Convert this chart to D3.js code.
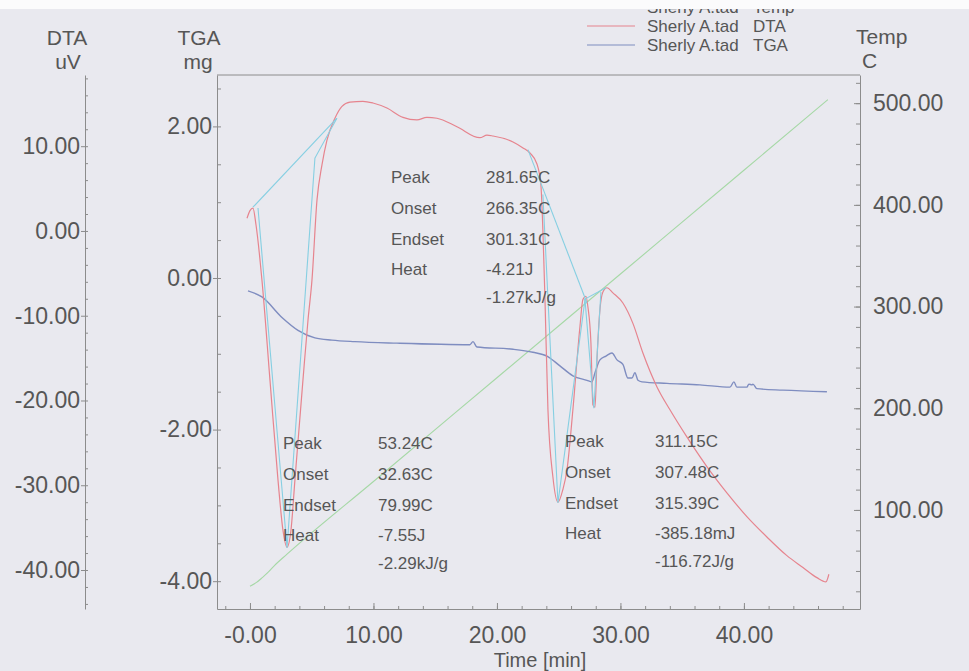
<!DOCTYPE html>
<html>
<head>
<meta charset="utf-8">
<script src="https://cdn.jsdelivr.net/npm/d3@7"></script>
<style>
  body { margin: 0; background: #e9e9ef; }
  svg { display: block; }
  text { font-family: "Liberation Sans", Arial, sans-serif; fill: #565656; }
  .axis path, .axis line { stroke: #8c8c8c; stroke-width: 1; }
  .axis text { font-size: 23px; fill: #565656; }
</style>
</head>
<body>
<svg id="chart" width="969" height="671"></svg>
<script>
// ---- DTA signal (uV) against time (min)
const dtaTime = [-0.24,0,0.24,0.49,0.97,1.62,2.27,2.67,3.00,3.32,3.64,4.29,4.70,5.02,5.43,5.83,6.23,6.88,7.45,8.10,9.15,9.96,11.09,12.39,13.52,14.33,15.14,16.76,18.62,19.19,19.68,21.30,22.11,22.67,23.24,23.56,23.72,23.89,24.13,24.53,24.94,25.34,25.67,26.15,26.72,26.96,27.21,27.37,27.61,27.77,27.94,28.10,28.34,28.58,28.91,29.39,30.20,31.01,31.82,32.96,34.01,35.38,37.00,38.62,40.24,41.86,43.48,44.78,45.91,46.64,46.88];
const dtaValue = [1.5,2.4,2.7,0.7,-5.8,-17.6,-29.4,-35.3,-37.3,-35.3,-29.4,-17.6,-10.5,-5.8,3.7,7.8,10.7,13.3,14.7,15.2,15.3,15.1,14.5,13.4,13.1,13.4,13.3,12.3,11.0,11.3,11.2,10.5,9.8,9.2,7.9,5.4,0.1,-8.1,-21.1,-29.0,-32.0,-30.5,-28.2,-21.1,-11.3,-8.1,-7.7,-9.0,-13.2,-20.5,-20.8,-15.2,-9.3,-7.2,-6.7,-7.3,-8.5,-10.9,-14.4,-18.4,-21.1,-24.3,-27.8,-30.9,-33.7,-36.1,-38.3,-39.7,-40.9,-41.4,-40.5];

// ---- TGA mass change (mg)
const tgaTime = [-0.16,0.97,2.59,3.89,5.26,6.64,8.50,11.90,17.81,18.06,18.38,21.30,22.91,24.05,25.10,26.15,27.29,27.69,27.94,28.34,28.83,29.31,29.72,30.20,30.61,30.93,31.17,31.42,31.74,33.77,36.44,38.87,39.19,39.43,40.24,40.40,40.65,40.73,41.05,43.16,46.72];
const tgaValue = [-0.17,-0.25,-0.52,-0.69,-0.79,-0.82,-0.84,-0.86,-0.88,-0.84,-0.91,-0.94,-0.98,-1.03,-1.16,-1.29,-1.35,-1.37,-1.25,-1.08,-1.03,-0.99,-1.08,-1.14,-1.32,-1.32,-1.25,-1.35,-1.37,-1.39,-1.41,-1.44,-1.37,-1.44,-1.44,-1.40,-1.41,-1.40,-1.46,-1.48,-1.50];

// ---- Sample temperature (C)
const tempTime = [0,0.5,1,1.5,2,3,10,20,30,40,46.8];
const tempValue = [25,28.5,33.5,39,45.5,56.5,128,230,332,434,503.5];

// ---- Peak-analysis construction lines (time, DTA uV)
const base1Time = [0.24,7.04],        base1Value = [2.8,13.3];
const peak1Time = [0.65,3.0,5.26,7.04], peak1Value = [2.7,-37.4,8.6,13.3];
const base2Time = [22.51,27.29],      base2Value = [9.6,-8.5];
const peak2Time = [23.72,24.94,27.13], peak2Value = [4.3,-32.1,-8.1];
const peak3Time = [27.13,27.85,28.42], peak3Value = [-8.1,-20.9,-7.2];
const base3Time = [27.04,28.83],      base3Value = [-8.1,-6.7];

// ---- Axis ticks
const timeTicks = [0,10,20,30,40];
const timeTickLabels = ["-0.00","10.00","20.00","30.00","40.00"];
const dtaTicks = [-40,-30,-20,-10,0,10];
const tgaTicks = [-4,-2,0,2];
const tempTicks = [100,200,300,400,500];

// ---- Peak result tables
const peakLabels = ["Peak","Onset","Endset","Heat",""];
const peakA = ["281.65C","266.35C","301.31C","-4.21J","-1.27kJ/g"];
const peakB = ["53.24C","32.63C","79.99C","-7.55J","-2.29kJ/g"];
const peakC = ["311.15C","307.48C","315.39C","-385.18mJ","-116.72J/g"];

const svg = d3.select("#chart");
const L = 217, R = 860, T = 75, B = 609;

const x = d3.scaleLinear().domain([-2.67, 49.4]).range([L, R]);
const yDTA = d3.scaleLinear().domain([-44.6, 18.4]).range([B, T]);
const yTGA = d3.scaleLinear().domain([-4.367, 2.678]).range([B, T]);
const yTemp = d3.scaleLinear().domain([2.6, 527.7]).range([B, T]);

const fmt = d => d.toFixed(2);
const range = (a, b, s) => d3.range(a, b + s / 2, s);

// plot frame top edge
svg.append("line").attr("x1", L).attr("x2", R).attr("y1", T).attr("y2", T)
  .attr("stroke", "#8c8c8c");

// DTA axis (far left)
svg.append("g").attr("class", "axis").attr("transform", "translate(85,0)")
  .call(d3.axisLeft(yDTA).tickValues(dtaTicks).tickFormat(fmt).tickSizeInner(4).tickSizeOuter(0).tickPadding(1));
svg.append("g").attr("class", "axis").attr("transform", "translate(85,0)")
  .call(d3.axisLeft(yDTA).tickValues(range(-44, 18, 2)).tickFormat("").tickSizeInner(-3).tickSizeOuter(0))
  .select(".domain").remove();

// TGA axis (frame left)
svg.append("g").attr("class", "axis").attr("transform", `translate(${L},0)`)
  .call(d3.axisLeft(yTGA).tickValues(tgaTicks).tickFormat(fmt).tickSizeInner(4).tickSizeOuter(0).tickPadding(1));
svg.append("g").attr("class", "axis").attr("transform", `translate(${L},0)`)
  .call(d3.axisLeft(yTGA).tickValues(range(-4, 2.5, 0.5)).tickFormat("").tickSizeInner(-4).tickSizeOuter(0))
  .select(".domain").remove();

// Temperature axis (frame right)
svg.append("g").attr("class", "axis").attr("transform", `translate(${R},0)`)
  .call(d3.axisRight(yTemp).tickValues(tempTicks).tickFormat(fmt).tickSizeInner(-6).tickSizeOuter(0).tickPadding(13));
svg.append("g").attr("class", "axis").attr("transform", `translate(${R},0)`)
  .call(d3.axisRight(yTemp).tickValues(range(20, 520, 20)).tickFormat("").tickSizeInner(-4).tickSizeOuter(0))
  .select(".domain").remove();

// Time axis (frame bottom)
svg.append("g").attr("class", "axis").attr("transform", `translate(0,${B})`)
  .call(d3.axisBottom(x).tickValues(timeTicks).tickFormat((d, i) => timeTickLabels[i])
    .tickSizeInner(-6).tickSizeOuter(0).tickPadding(18));
svg.append("g").attr("class", "axis").attr("transform", `translate(0,${B})`)
  .call(d3.axisBottom(x).tickValues(range(-2, 48, 2)).tickFormat("").tickSizeInner(-3).tickSizeOuter(0))
  .select(".domain").remove();

// axis titles
const title = (t, px, py, anchor, size) => svg.append("text").attr("x", px).attr("y", py)
  .attr("text-anchor", anchor || "middle").style("font-size", (size || 21) + "px").text(t);
title("DTA", 67, 45); title("uV", 68, 69);
title("TGA", 199, 45); title("mg", 198, 69);
title("Temp", 856, 44, "start"); title("C", 862, 68, "start");
title("Time  [min]", 540, 667, "middle", 20);

// curves
const lineOf = (ts, vs, sx, sy, curve) => d3.line().curve(curve || d3.curveLinear)
  .x(d => sx(d[0])).y(d => sy(d[1]))(d3.zip(ts, vs));

const plot = svg.append("g");
plot.append("path").attr("d", lineOf(tempTime, tempValue, x, yTemp, d3.curveMonotoneX))
  .attr("fill", "none").attr("stroke", "#a6d8a6").attr("stroke-width", 1.1);
plot.append("path").attr("d", lineOf(tgaTime, tgaValue, x, yTGA, d3.curveMonotoneX))
  .attr("fill", "none").attr("stroke", "#7f8dc0").attr("stroke-width", 1.4);
plot.append("path").attr("d", lineOf(dtaTime, dtaValue, x, yDTA, d3.curveMonotoneX))
  .attr("fill", "none").attr("stroke", "#e6848e").attr("stroke-width", 1.2);

[[base1Time, base1Value], [peak1Time, peak1Value], [base2Time, base2Value],
 [peak2Time, peak2Value], [peak3Time, peak3Value], [base3Time, base3Value]]
  .forEach(([ts, vs]) => plot.append("path").attr("d", lineOf(ts, vs, x, yDTA))
    .attr("fill", "none").attr("stroke", "#86cfe2").attr("stroke-width", 1.1));

// peak result tables
function table(vals, lx, vx, y0) {
  const ys = [0, 31, 62, 92, 120];
  const g = svg.append("g").style("font-size", "17px");
  peakLabels.forEach((t, i) => { if (t) g.append("text").attr("x", lx).attr("y", y0 + ys[i]).text(t); });
  vals.forEach((t, i) => g.append("text").attr("x", vx).attr("y", y0 + ys[i]).text(t));
}
table(peakA, 391, 486, 183);
table(peakB, 283, 378, 449);
table(peakC, 565, 655, 447);

// legend
const legend = [
  { name: "Temp", color: "#a6d8a6", y: 7 },
  { name: "DTA", color: "#e6848e", y: 26 },
  { name: "TGA", color: "#7f8dc0", y: 45 }
];
const lg = svg.append("g").style("font-size", "17px");
legend.forEach(d => {
  lg.append("line").attr("x1", 587).attr("x2", 635).attr("y1", d.y).attr("y2", d.y)
    .attr("stroke", d.color).attr("stroke-width", 1.1);
  lg.append("text").attr("x", 647).attr("y", d.y + 6).text("Sherly A.tad");
  lg.append("text").attr("x", 753).attr("y", d.y + 6).text(d.name);
});
// page edge strip across the top
svg.append("rect").attr("x", 0).attr("y", 0).attr("width", 969).attr("height", 9).attr("fill", "#fbfbfc");
</script>
</body>
</html>
